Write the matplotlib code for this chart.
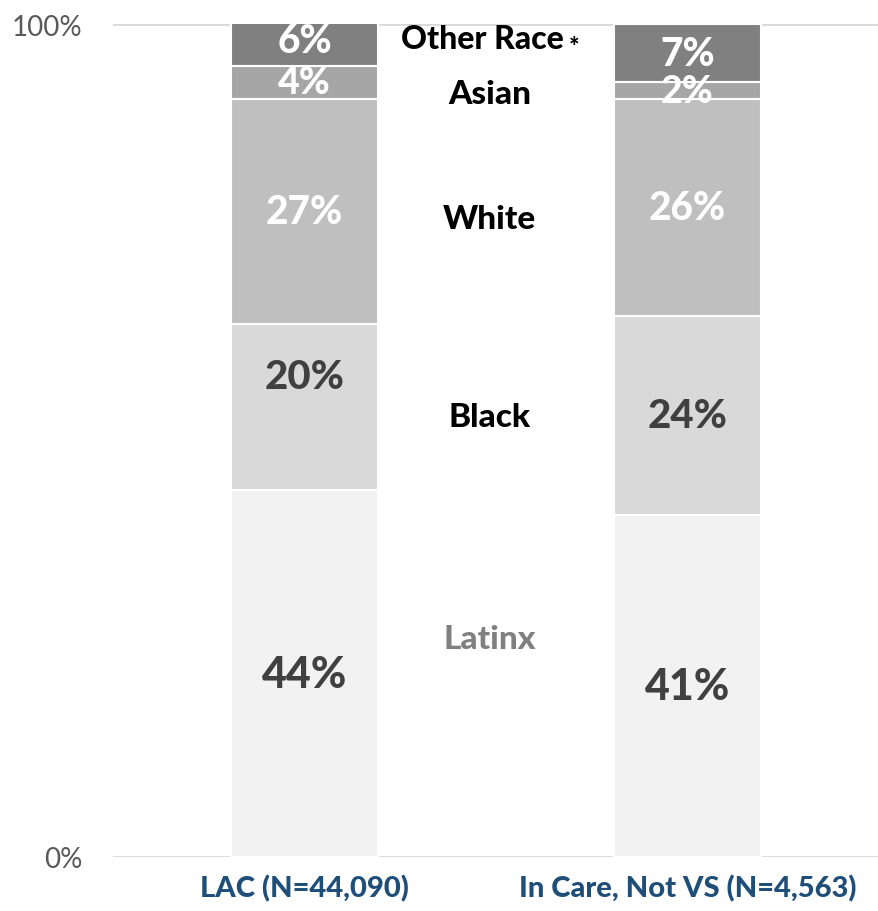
import matplotlib.pyplot as plt
from matplotlib.ticker import PercentFormatter

groups = ["LAC (N=44,090)", "In Care, Not VS (N=4,563)"]
races = ["Latinx", "Black", "White", "Asian", "Other Race"]
lac = [44, 20, 27, 4, 6]
in_care = [41, 24, 26, 2, 7]

colors = ["#F2F2F2", "#D9D9D9", "#BFBFBF", "#A6A6A6", "#808080"]
label_colors = ["#404040", "#404040", "white", "white", "white"]
label_sizes = [31, 29, 28, 27, 28]

plt.rcParams["font.family"] = ["Lato", "DejaVu Sans"]

fig = plt.figure(figsize=(8.79, 9.12), dpi=100)
ax = fig.add_axes([113 / 879, 54 / 912, 1 - 113 / 879, 833 / 912])

width = 0.382
for i, vals in enumerate([lac, in_care]):
    bottom = 0
    for j, v in enumerate(vals):
        ax.bar(i, v, width, bottom=bottom, color=colors[j],
               edgecolor="white", linewidth=1.5, zorder=2)
        y = bottom + v / 2
        if i == 0 and j == 1:
            y += 3.7  # label sits high in this segment
        ax.text(i, y, f"{v}%", ha="center", va="center",
                color=label_colors[j], fontsize=label_sizes[j],
                fontweight="black", zorder=3)
        bottom += v

# series names between the two bars
name_y = [26.2, 52.9, 76.6, 91.6, 98.2]
for j, name in enumerate(races):
    c = "#808080" if j == 0 else "black"
    if name == "Other Race":
        ax.text(0.465, name_y[j], "Other Race", ha="center", va="center",
                fontsize=23, fontweight="black", color=c)
        ax.text(0.69, name_y[j] - 0.9, "*", ha="left", va="center",
                fontsize=18, fontweight="black", color=c)
    else:
        ax.text(0.484, name_y[j], name, ha="center", va="center",
                fontsize=24, fontweight="black", color=c)

ax.set_xlim(-0.5, 1.5)
ax.set_ylim(0, 100)
ax.set_yticks([0, 100])
ax.yaxis.set_major_formatter(PercentFormatter(decimals=0))
ax.set_xticks([0, 1])
ax.set_xticklabels(groups, fontsize=21, fontweight="black", color="#1F4E79")
ax.tick_params(axis="x", length=0, pad=12)
ax.tick_params(axis="y", length=0, labelsize=20, labelcolor="#595959", pad=22)
ax.grid(axis="y", color="#D9D9D9", linewidth=2, zorder=0)
for s in ax.spines.values():
    s.set_visible(False)

fig.savefig("out.png", dpi=100)
